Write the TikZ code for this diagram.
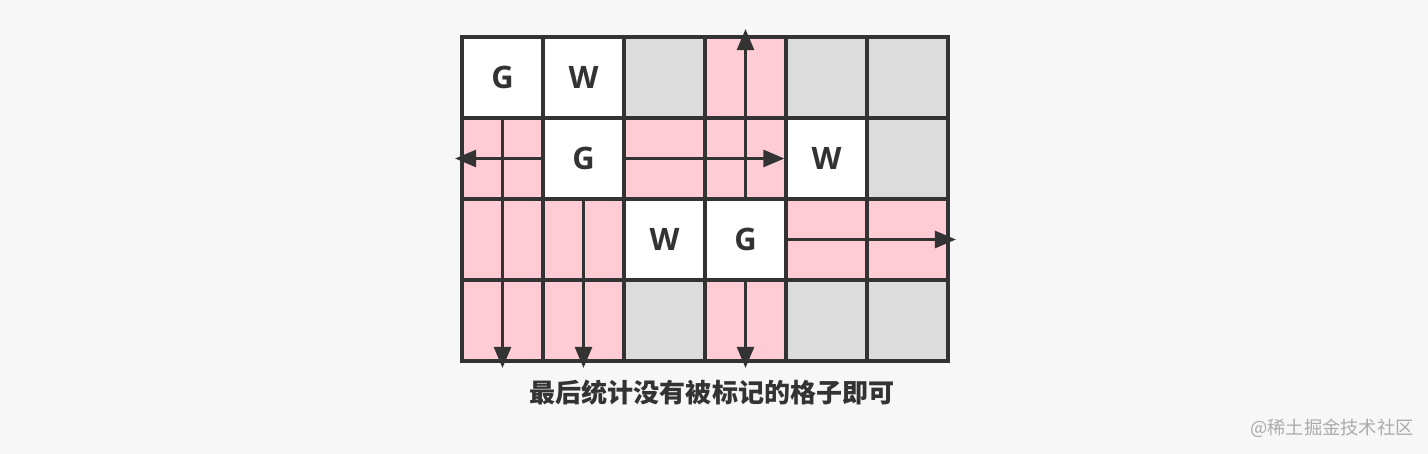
\documentclass[tikz,border=0pt]{standalone}
\usepackage{fontspec}
\setmainfont{Noto Sans CJK SC}
\newfontfamily\letterfont{Open Sans}
\usetikzlibrary{arrows.meta}
\definecolor{lineGray}{HTML}{333333}
\definecolor{markPink}{HTML}{FFCCD5}
\definecolor{freeGray}{HTML}{DCDCDC}
\definecolor{pageBg}{HTML}{F7F7F7}
\definecolor{markText}{HTML}{ABABAB}
\tikzset{
  cell/.style={draw=lineGray, line width=2.2pt, minimum size=2.025cm, inner sep=0pt,
    font=\letterfont\fontsize{22}{22}\selectfont\bfseries, text=lineGray},
  wcell/.style={cell, fill=white},
  pcell/.style={cell, fill=markPink},
  gcell/.style={cell, fill=freeGray},
  scan/.style={draw=lineGray, line width=2.2pt, -{Triangle[length=15pt,width=12pt]}}
}
\begin{document}
\begin{tikzpicture}[x=0.025cm,y=-0.025cm]
\fill[pageBg] (0,0) rectangle (1428,454);
\useasboundingbox (0,0) rectangle (1428,454);
% row 0
\node[wcell] (g00) at (502.5,77.5) {G};
\node[wcell] (w01) at (583.5,77.5) {W};
\node[gcell] (c02) at (664.5,77.5) {};
\node[pcell] (c03) at (745.5,77.5) {};
\node[gcell] (c04) at (826.5,77.5) {};
\node[gcell] (c05) at (907.5,77.5) {};
% row 1
\node[pcell] (c10) at (502.5,158.5) {};
\node[wcell] (g11) at (583.5,158.5) {G};
\node[pcell] (c12) at (664.5,158.5) {};
\node[pcell] (c13) at (745.5,158.5) {};
\node[wcell] (w14) at (826.5,158.5) {W};
\node[gcell] (c15) at (907.5,158.5) {};
% row 2
\node[pcell] (c20) at (502.5,239.5) {};
\node[pcell] (c21) at (583.5,239.5) {};
\node[wcell] (w22) at (664.5,239.5) {W};
\node[wcell] (g23) at (745.5,239.5) {G};
\node[pcell] (c24) at (826.5,239.5) {};
\node[pcell] (c25) at (907.5,239.5) {};
% row 3
\node[pcell] (c30) at (502.5,320.5) {};
\node[pcell] (c31) at (583.5,320.5) {};
\node[gcell] (c32) at (664.5,320.5) {};
\node[pcell] (c33) at (745.5,320.5) {};
\node[gcell] (c34) at (826.5,320.5) {};
\node[gcell] (c35) at (907.5,320.5) {};
% free ends of the scans
\coordinate (leftEnd) at (455,158.5);
\coordinate (topEnd) at (745.5,29);
\coordinate (rightEnd) at (956,239.5);
\coordinate (downA) at (502.5,368);
\coordinate (downB) at (583.5,368);
\coordinate (downC) at (745.5,368);
\draw[scan] (g00.south) -- (downA);
\draw[scan] (g11.west) -- (leftEnd);
\draw[scan] (g11.east) -- (w14.west);
\draw[scan] (g11.south) -- (downB);
\draw[scan] (g23.north) -- (topEnd);
\draw[scan] (g23.south) -- (downC);
\draw[scan] (g23.east) -- (rightEnd);
% texts
\node[text=lineGray, font=\fontsize{18.5}{18.5}\selectfont\bfseries] (caption) at (712,393) {最后统计没有被标记的格子即可};
\node[text=markText, font=\fontsize{13}{13}\selectfont] (mark) at (1332,428) {@稀土掘金技术社区};
\end{tikzpicture}
\end{document}
